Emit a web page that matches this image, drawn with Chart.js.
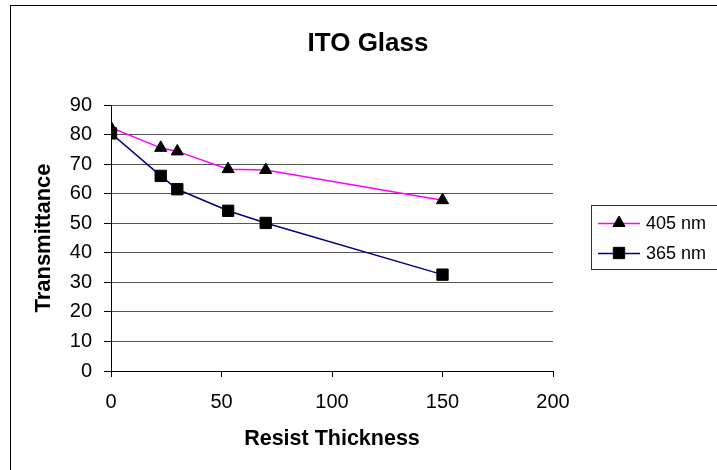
<!DOCTYPE html>
<html><head><meta charset="utf-8">
<script src="https://cdn.jsdelivr.net/npm/chart.js@4.4.0/dist/chart.umd.min.js"></script>
<style>html,body{margin:0;padding:0;background:#fff}#wrap{width:717px;height:470px;position:relative}</style>
</head><body><div id="wrap"><canvas id="c" width="717" height="470"></canvas></div>
<script>
const chartTitle = 'ITO Glass';
const xAxisTitle = 'Resist Thickness';
const yAxisTitle = 'Transmittance';
const seriesNames = ['405 nm', '365 nm'];
const thickness405 = [0, 22.5, 30, 53, 70, 150];
const trans405 = [82.3, 75.5, 74.3, 68.3, 68.0, 57.8];
const thickness365 = [0, 22.5, 30, 53, 70, 150];
const trans365 = [80.4, 66.0, 61.5, 54.2, 50.1, 32.6];
const xTicks = [0, 50, 100, 150, 200];
const yTicks = [0, 10, 20, 30, 40, 50, 60, 70, 80, 90];

const FONT = '"Liberation Sans", Arial, sans-serif';
const toXY = (xs, ys) => xs.map((x, i) => ({x: x, y: ys[i]}));

const styles = [
  {color: '#FF00FF', pointStyle: 'triangle', radius: 7},
  {color: '#000080', pointStyle: 'rect', radius: 8}
];

const framePlugin = {
  id: 'frame',
  beforeDraw(chart) {
    const ctx = chart.ctx;
    ctx.save();
    ctx.fillStyle = '#fff';
    ctx.fillRect(0, 0, chart.width, chart.height);
    ctx.strokeStyle = '#000';
    ctx.lineWidth = 1;
    ctx.strokeRect(10.5, 5.5, 900, 700);
    ctx.restore();
  },
  afterDraw(chart) {
    const ctx = chart.ctx;
    ctx.save();
    // title
    ctx.fillStyle = '#000';
    ctx.font = 'bold 26px ' + FONT;
    ctx.textAlign = 'center';
    ctx.textBaseline = 'middle';
    ctx.fillText(chartTitle, 368, 44);
    // legend
    ctx.strokeStyle = '#333';
    ctx.lineWidth = 1;
    ctx.strokeRect(591.5, 205.5, 200, 64);
    const rows = [223, 253];
    seriesNames.forEach((name, i) => {
      const y = rows[i];
      const st = styles[i];
      ctx.strokeStyle = st.color;
      ctx.lineWidth = 1.5;
      ctx.beginPath();
      ctx.moveTo(598, y + 0.5);
      ctx.lineTo(640, y + 0.5);
      ctx.stroke();
      ctx.fillStyle = '#000';
      ctx.strokeStyle = '#000';
      ctx.lineWidth = 1;
      Chart.helpers.drawPoint(ctx, {pointStyle: st.pointStyle, radius: st.radius, rotation: 0, borderWidth: 1}, 619, y);
      ctx.fillStyle = '#000';
      ctx.font = '18px ' + FONT;
      ctx.textAlign = 'left';
      ctx.textBaseline = 'middle';
      ctx.fillText(name, 646, y + 1);
    });
    ctx.restore();
  }
};

new Chart(document.getElementById('c'), {
  type: 'scatter',
  data: {
    datasets: [
      {
        label: seriesNames[0],
        data: toXY(thickness405, trans405),
        showLine: true,
        borderColor: styles[0].color,
        borderWidth: 1.5,
        pointStyle: styles[0].pointStyle,
        pointRadius: styles[0].radius,
        pointBackgroundColor: '#000',
        pointBorderColor: '#000',
        pointBorderWidth: 1,
        order: 2
      },
      {
        label: seriesNames[1],
        data: toXY(thickness365, trans365),
        showLine: true,
        borderColor: styles[1].color,
        borderWidth: 1.5,
        pointStyle: styles[1].pointStyle,
        pointRadius: styles[1].radius,
        pointBackgroundColor: '#000',
        pointBorderColor: '#000',
        pointBorderWidth: 1,
        order: 1
      }
    ]
  },
  options: {
    responsive: false,
    animation: false,
    devicePixelRatio: 1,
    layout: {padding: {top: 105, right: 164, left: 0, bottom: 0}},
    plugins: {legend: {display: false}, title: {display: false}, tooltip: {enabled: false}},
    scales: {
      x: {
        type: 'linear', min: 0, max: 200,
        afterBuildTicks: s => { s.ticks = xTicks.map(v => ({value: v})); },
        afterFit: s => { s.height = 99; },
        grid: {drawOnChartArea: false, drawTicks: true, tickLength: 6, color: '#000', tickColor: '#000'},
        border: {display: true, color: '#000', width: 1},
        ticks: {color: '#000', font: {family: FONT, size: 20}, padding: 13, maxRotation: 0},
        title: {display: true, text: xAxisTitle, color: '#000', font: {family: FONT, size: 21.5, weight: 'bold'}, padding: {top: 0, bottom: 18}}
      },
      y: {
        type: 'linear', min: 0, max: 90,
        afterBuildTicks: s => { s.ticks = yTicks.map(v => ({value: v})); },
        afterFit: s => { s.width = 111; },
        grid: {drawOnChartArea: true, drawTicks: true, tickLength: 7, color: '#555', tickColor: '#000', lineWidth: 1},
        border: {display: true, color: '#000', width: 1},
        ticks: {color: '#000', font: {family: FONT, size: 20}, padding: 12},
        title: {display: true, text: yAxisTitle, color: '#000', font: {family: FONT, size: 22, weight: 'bold'}, padding: {top: 31, bottom: 0}}
      }
    }
  },
  plugins: [framePlugin]
});
</script></body></html>
